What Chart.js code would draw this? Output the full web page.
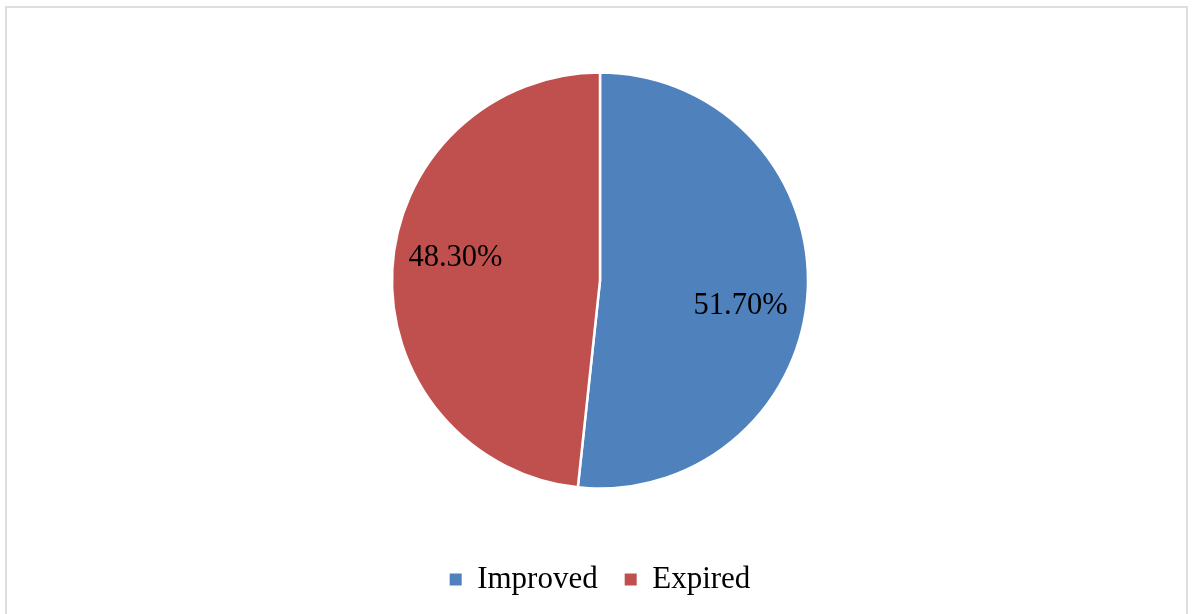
<!DOCTYPE html>
<html>
<head>
<meta charset="utf-8">
<script src="https://cdn.jsdelivr.net/npm/chart.js@4"></script>
<style>
  html, body { margin: 0; padding: 0; background: #ffffff; }
  #wrap { position: relative; width: 1193px; height: 614px; overflow: hidden; }
  #frame {
    position: absolute; left: 5px; top: 6px; width: 1183px; height: 640px;
    border: 2px solid #dedede; box-sizing: border-box;
  }
  canvas { position: absolute; left: 0; top: 0; }
</style>
</head>
<body>
<div id="wrap">
  <div id="frame"></div>
  <canvas id="chart" width="1193" height="614"></canvas>
</div>
<script>
// Patient outcome shares (percent)
const categories = ['Improved', 'Expired'];
const shares = [51.70, 48.30];
const sliceColors = ['#4F81BD', '#C0504D'];

const serif = '"Liberation Serif", "Times New Roman", serif';

// Percentage labels written inside each slice
const sliceLabels = {
  id: 'sliceLabels',
  afterDatasetsDraw(chart) {
    const { ctx } = chart;
    const meta = chart.getDatasetMeta(0);
    const values = chart.data.datasets[0].data;
    ctx.save();
    ctx.font = '30.5px ' + serif;
    ctx.fillStyle = '#000000';
    ctx.textAlign = 'center';
    ctx.textBaseline = 'middle';
    meta.data.forEach((arc, i) => {
      const p = arc.getProps(['x', 'y', 'startAngle', 'endAngle', 'outerRadius'], true);
      const mid = (p.startAngle + p.endAngle) / 2 + 6.5 * Math.PI / 180;
      const r = p.outerRadius * 0.695;
      ctx.fillText(values[i].toFixed(2) + '%', p.x + r * Math.cos(mid) - 2, p.y + r * Math.sin(mid) + 1);
    });
    ctx.restore();
  }
};

new Chart(document.getElementById('chart'), {
  type: 'pie',
  data: {
    labels: categories,
    datasets: [{
      data: shares,
      backgroundColor: sliceColors,
      borderColor: '#ffffff',
      borderWidth: 2.5,
      radius: 208
    }]
  },
  options: {
    responsive: false,
    animation: false,
    layout: { padding: { left: 7, right: 0, top: 24, bottom: 9 } },
    plugins: {
      tooltip: { enabled: false },
      legend: {
        display: true,
        position: 'bottom',
        labels: {
          boxWidth: 12,
          boxHeight: 12,
          padding: 27,
          color: '#000000',
          font: { family: serif, size: 31 },
          // solid legend swatches without the white slice outline
          generateLabels(chart) {
            return Chart.overrides.pie.plugins.legend.labels.generateLabels(chart).map(item => ({
              ...item,
              strokeStyle: item.fillStyle,
              lineWidth: 0
            }));
          }
        }
      }
    }
  },
  plugins: [sliceLabels]
});
</script>
</body>
</html>
